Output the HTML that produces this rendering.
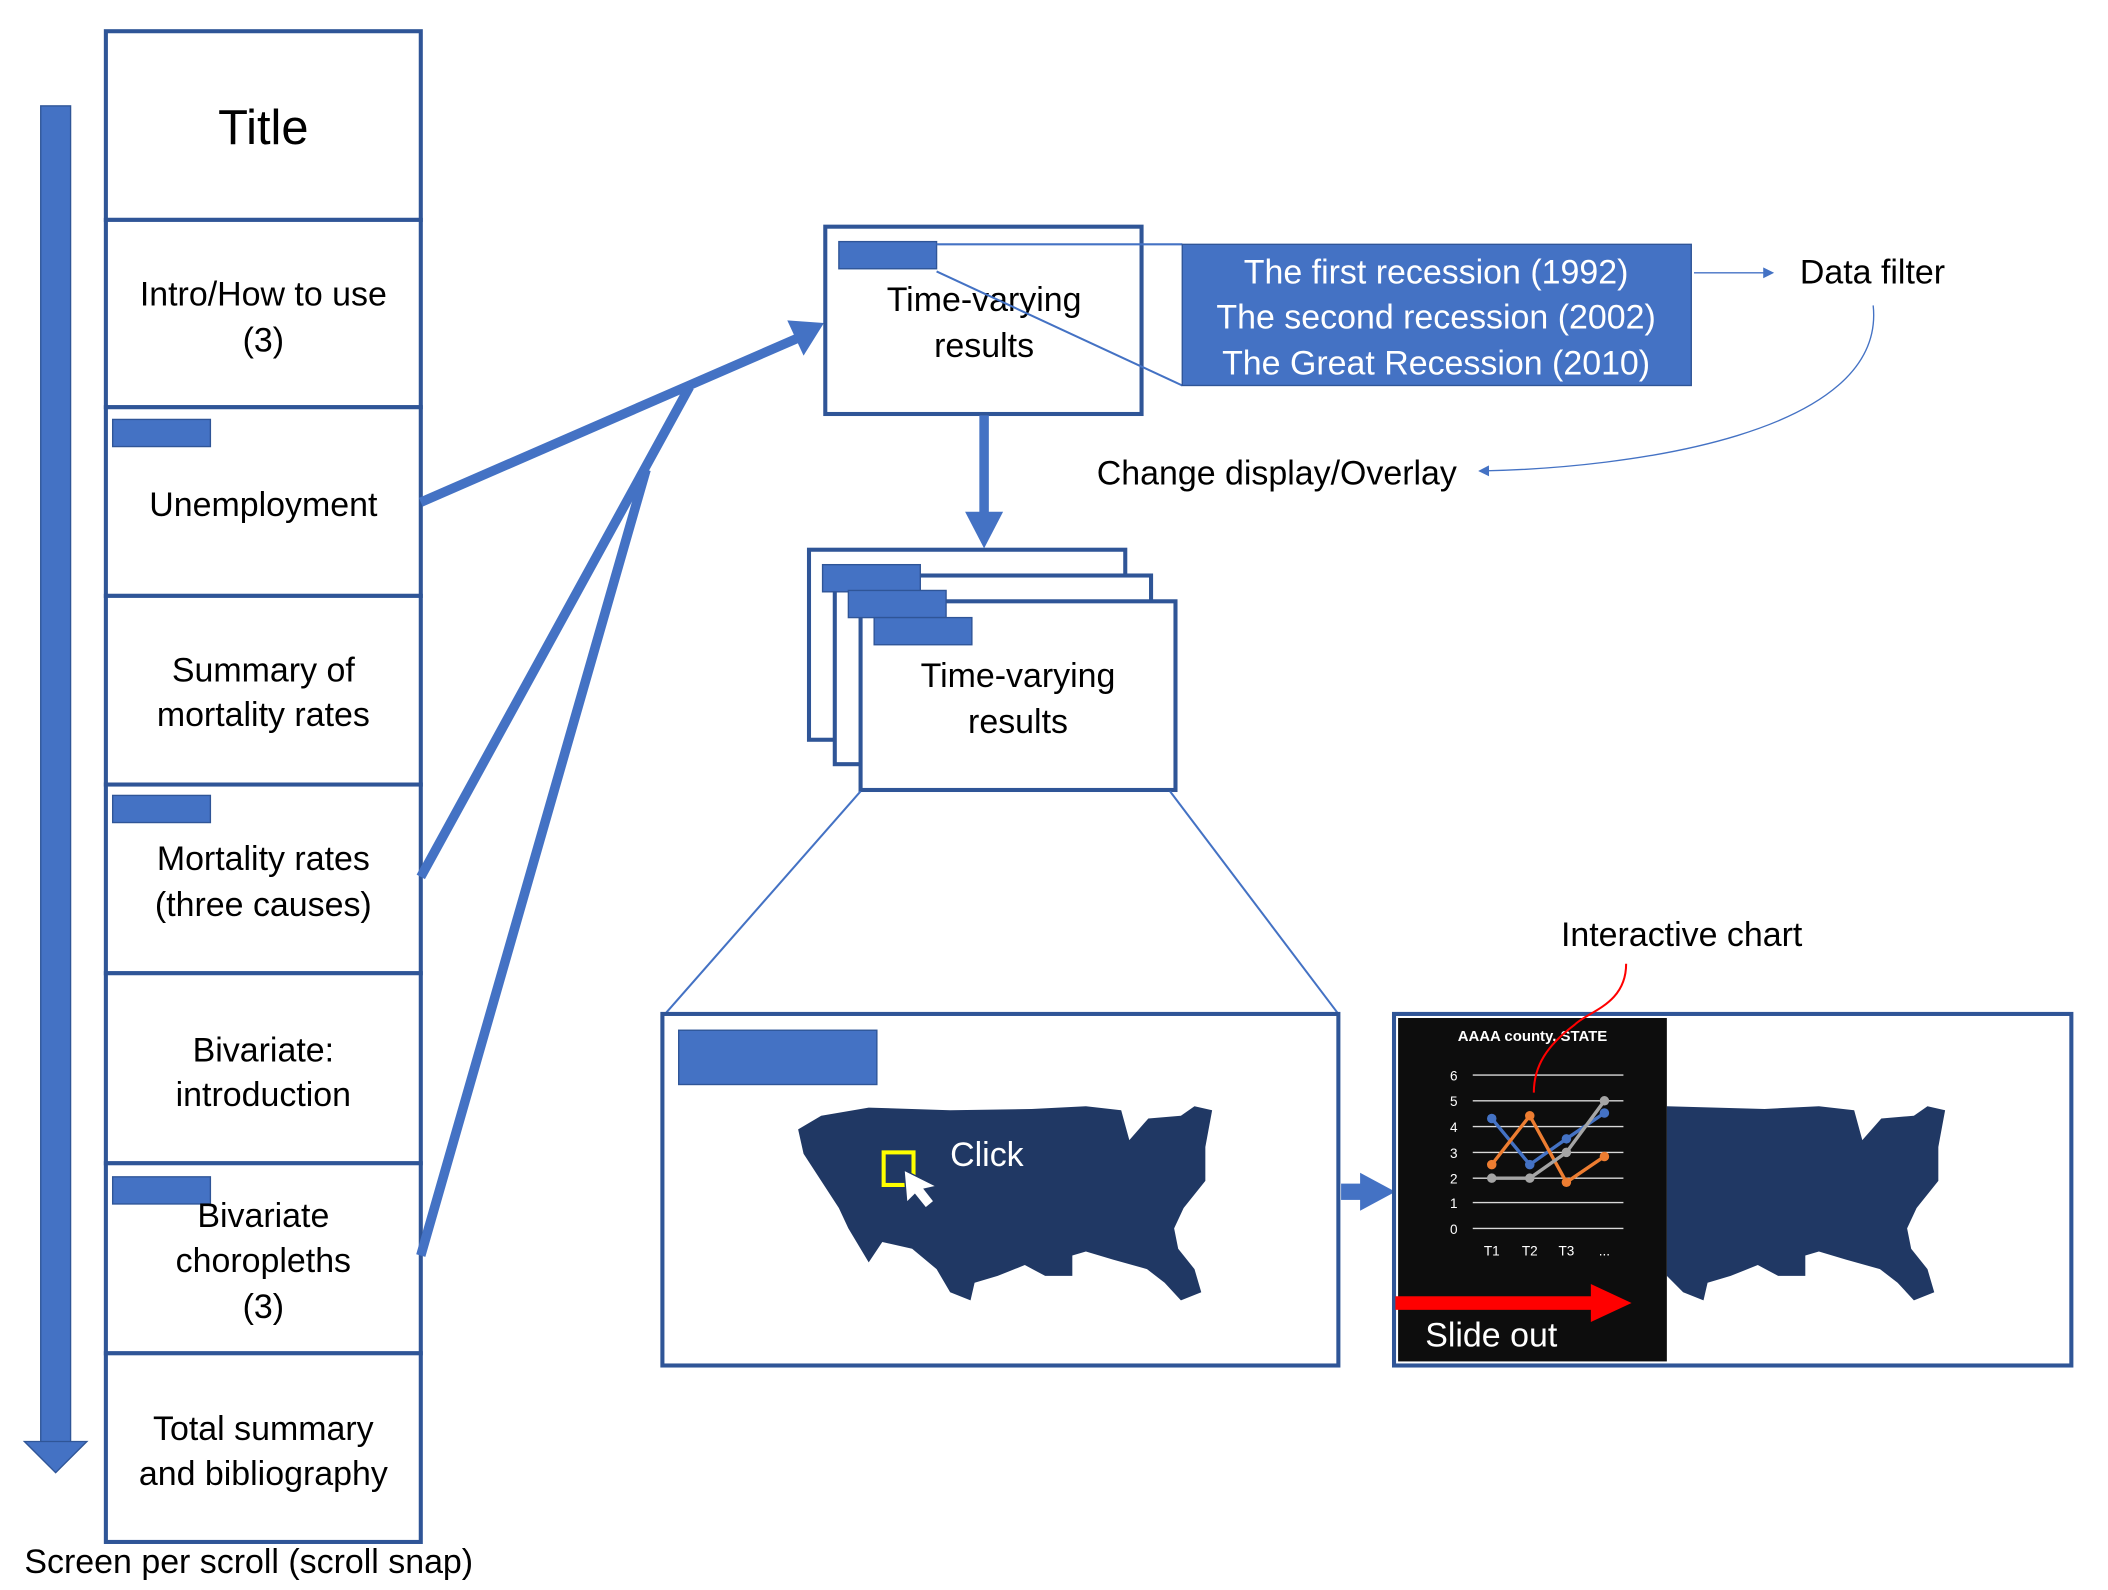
<!DOCTYPE html>
<html><head><meta charset="utf-8"><style>
html,body{margin:0;padding:0;background:#fff;}
svg{display:block;}
text{font-family:"Liberation Sans",sans-serif;}
</style></head><body>
<svg width="2108" height="1590" viewBox="0 0 1553 1171.4" preserveAspectRatio="none" xmlns="http://www.w3.org/2000/svg">
<defs>
<marker id="ah" markerWidth="8" markerHeight="8" refX="7" refY="4" orient="auto" markerUnits="userSpaceOnUse"><path d="M0,0 L8,4 L0,8 z" fill="#4472c4"/></marker>
</defs>
<!-- vertical arrow -->
<rect x="30" y="78" width="22" height="985" fill="#4472c4" stroke="#2f5597" stroke-width="1"/>
<path d="M18,1062 L64,1062 L41,1085 z" fill="#4472c4" stroke="#2f5597" stroke-width="1"/>
<!-- left column -->
<g fill="#fff" stroke="#2f5597" stroke-width="3">
<rect x="78" y="23" width="232" height="139"/>
<rect x="78" y="162" width="232" height="138"/>
<rect x="78" y="300" width="232" height="139"/>
<rect x="78" y="439" width="232" height="139"/>
<rect x="78" y="578" width="232" height="139"/>
<rect x="78" y="717" width="232" height="140"/>
<rect x="78" y="857" width="232" height="140"/>
<rect x="78" y="997" width="232" height="139"/>
</g>
<g fill="#4472c4" stroke="#2f5597" stroke-width="1">
<rect x="83" y="309" width="72" height="20"/>
<rect x="83" y="586" width="72" height="20"/>
<rect x="83" y="867" width="72" height="20"/>
</g>
<g font-size="25" text-anchor="middle" fill="#000">
<text x="194" y="106" font-size="36">Title</text>
<text x="194" y="225">Intro/How to use</text><text x="194" y="259">(3)</text>
<text x="194" y="380">Unemployment</text>
<text x="194" y="502">Summary of</text><text x="194" y="535">mortality rates</text>
<text x="194" y="641">Mortality rates</text><text x="194" y="675">(three causes)</text>
<text x="194" y="782">Bivariate:</text><text x="194" y="815">introduction</text>
<text x="194" y="904">Bivariate</text><text x="194" y="937">choropleths</text><text x="194" y="971">(3)</text>
<text x="194" y="1061">Total summary</text><text x="194" y="1094">and bibliography</text>
</g>
<text x="18" y="1159" font-size="25">Screen per scroll (scroll snap)</text>
<!-- thick arrows -->
<g stroke="#4472c4" stroke-width="7" fill="none">
<line x1="310" y1="370" x2="588" y2="249"/>
<line x1="310" y1="646" x2="508" y2="285"/>
<line x1="310" y1="925" x2="476" y2="346"/>
</g>
<path d="M607,238 L580,236 L592,262 z" fill="#4472c4"/>
<!-- top box -->
<rect x="608" y="167" width="233" height="138" fill="#fff" stroke="#2f5597" stroke-width="3"/>
<rect x="618" y="178" width="72" height="20" fill="#4472c4" stroke="#2f5597"/>
<text x="725" y="229" font-size="25" text-anchor="middle">Time-varying</text>
<text x="725" y="263" font-size="25" text-anchor="middle">results</text>
<line x1="690" y1="180" x2="871" y2="180" stroke="#4472c4" stroke-width="1.5"/>
<line x1="690" y1="200" x2="871" y2="284" stroke="#4472c4" stroke-width="1.5"/>
<rect x="871" y="180" width="375" height="104" fill="#4472c4" stroke="#2f5597" stroke-width="1"/>
<g fill="#fff" font-size="25" text-anchor="middle">
<text x="1058" y="209">The first recession (1992)</text>
<text x="1058" y="242">The second recession (2002)</text>
<text x="1058" y="276">The Great Recession (2010)</text>
</g>
<line x1="1248" y1="201" x2="1306" y2="201" stroke="#4472c4" stroke-width="1" marker-end="url(#ah)"/>
<text x="1326" y="209" font-size="25">Data filter</text>
<path d="M1380,225 C1390,320 1200,345 1090,347" fill="none" stroke="#4472c4" stroke-width="1" marker-end="url(#ah)"/>
<text x="808" y="357" font-size="25">Change display/Overlay</text>
<!-- down arrow -->
<line x1="725" y1="306" x2="725" y2="380" stroke="#4472c4" stroke-width="7"/>
<path d="M711,377 L739,377 L725,404 z" fill="#4472c4"/>
<!-- stacked -->
<g fill="#fff" stroke="#2f5597" stroke-width="3">
<rect x="596" y="405" width="233" height="140"/>
<rect x="615" y="424" width="233" height="139"/>
<rect x="634" y="443" width="232" height="139"/>
</g>
<g fill="#4472c4" stroke="#2f5597" stroke-width="1">
<rect x="606" y="416" width="72" height="20"/>
<rect x="625" y="435" width="72" height="20"/>
<rect x="644" y="455" width="72" height="20"/>
</g>
<text x="750" y="506" font-size="25" text-anchor="middle">Time-varying</text>
<text x="750" y="540" font-size="25" text-anchor="middle">results</text>
<line x1="634" y1="583" x2="490" y2="747" stroke="#4472c4" stroke-width="1.5"/>
<line x1="862" y1="583" x2="986" y2="747" stroke="#4472c4" stroke-width="1.5"/>
<!-- map box -->
<rect x="488" y="747" width="498" height="259" fill="#fff" stroke="#2f5597" stroke-width="3"/>
<rect x="500" y="759" width="146" height="40" fill="#4472c4" stroke="#2f5597"/>
<path id="us" d="M605,822 L640,816 L700,818 L760,817 L800,815 L826,818 L832,840 L846,824 L870,822 L880,815 L893,818 L888,845 L888,870 L872,890 L865,905 L868,920 L880,935 L885,952 L870,958 L858,945 L845,935 L820,928 L800,922 L790,925 L790,940 L770,940 L755,932 L735,940 L718,945 L715,958 L700,952 L690,935 L672,920 L650,915 L640,930 L625,905 L618,890 L605,870 L592,850 L588,832 z" fill="#203864"/>
<rect x="651" y="849" width="22" height="24" fill="none" stroke="#ffff00" stroke-width="3"/>
<path d="M666,862 L668,886 L674,880 L682,890 L688,885 L681,876 L690,874 z" fill="#fff" stroke="#203864"/>
<text x="700" y="859" font-size="25" fill="#fff">Click</text>
<!-- arrow to right -->
<rect x="988" y="872" width="16" height="12" fill="#4472c4"/>
<path d="M1002,864 L1028,878 L1002,892 z" fill="#4472c4"/>
<!-- right box -->
<rect x="1027" y="747" width="499" height="259" fill="#fff" stroke="#2f5597" stroke-width="3"/>
<g transform="translate(540,0)"><path d="M688,815 L760,817 L800,815 L826,818 L832,840 L846,824 L870,822 L880,815 L893,818 L888,845 L888,870 L872,890 L865,905 L868,920 L880,935 L885,952 L870,958 L858,945 L845,935 L820,928 L800,922 L790,925 L790,940 L770,940 L755,932 L735,940 L718,945 L715,958 L700,952 L688,940 z" fill="#203864"/></g>
<rect x="1030" y="750" width="198" height="253" fill="#0d0d0d"/>
<text x="1129" y="767" font-size="11" font-weight="bold" fill="#fff" text-anchor="middle">AAAA county, STATE</text>
<g stroke="#d9d9d9" stroke-width="1">
<line x1="1085" y1="792" x2="1196" y2="792"/><line x1="1085" y1="811" x2="1196" y2="811"/>
<line x1="1085" y1="830" x2="1196" y2="830"/><line x1="1085" y1="849" x2="1196" y2="849"/>
<line x1="1085" y1="868" x2="1196" y2="868"/><line x1="1085" y1="886" x2="1196" y2="886"/>
<line x1="1085" y1="905" x2="1196" y2="905"/>
</g>
<g fill="#fff" font-size="10" text-anchor="middle">
<text x="1071" y="796">6</text><text x="1071" y="815">5</text><text x="1071" y="834">4</text>
<text x="1071" y="853">3</text><text x="1071" y="872">2</text><text x="1071" y="890">1</text><text x="1071" y="909">0</text>
<text x="1099" y="925">T1</text><text x="1127" y="925">T2</text><text x="1154" y="925">T3</text><text x="1182" y="925">...</text>
</g>
<polyline points="1099,824 1127,858 1154,839 1182,820" fill="none" stroke="#4472c4" stroke-width="2.5"/>
<polyline points="1099,858 1127,822 1154,871 1182,852" fill="none" stroke="#ed7d31" stroke-width="2.5"/>
<polyline points="1099,868 1127,868 1154,849 1182,811" fill="none" stroke="#a5a5a5" stroke-width="2.5"/>
<g fill="#4472c4"><circle cx="1099" cy="824" r="3.5"/><circle cx="1127" cy="858" r="3.5"/><circle cx="1154" cy="839" r="3.5"/><circle cx="1182" cy="820" r="3.5"/></g>
<g fill="#ed7d31"><circle cx="1099" cy="858" r="3.5"/><circle cx="1127" cy="822" r="3.5"/><circle cx="1154" cy="871" r="3.5"/><circle cx="1182" cy="852" r="3.5"/></g>
<g fill="#a5a5a5"><circle cx="1099" cy="868" r="3.5"/><circle cx="1127" cy="868" r="3.5"/><circle cx="1154" cy="849" r="3.5"/><circle cx="1182" cy="811" r="3.5"/></g>
<rect x="1028" y="955" width="148" height="10" fill="#ff0000"/>
<path d="M1172,946 L1202,960 L1172,974 z" fill="#ff0000"/>
<text x="1050" y="992" font-size="25" fill="#fff">Slide out</text>
<text x="1150" y="697" font-size="25">Interactive chart</text>
<path d="M1198,710 C1198,740 1170,745 1160,755 C1140,770 1130,785 1130,805" fill="none" stroke="#ff0000" stroke-width="1.5"/>
</svg>
</body></html>
